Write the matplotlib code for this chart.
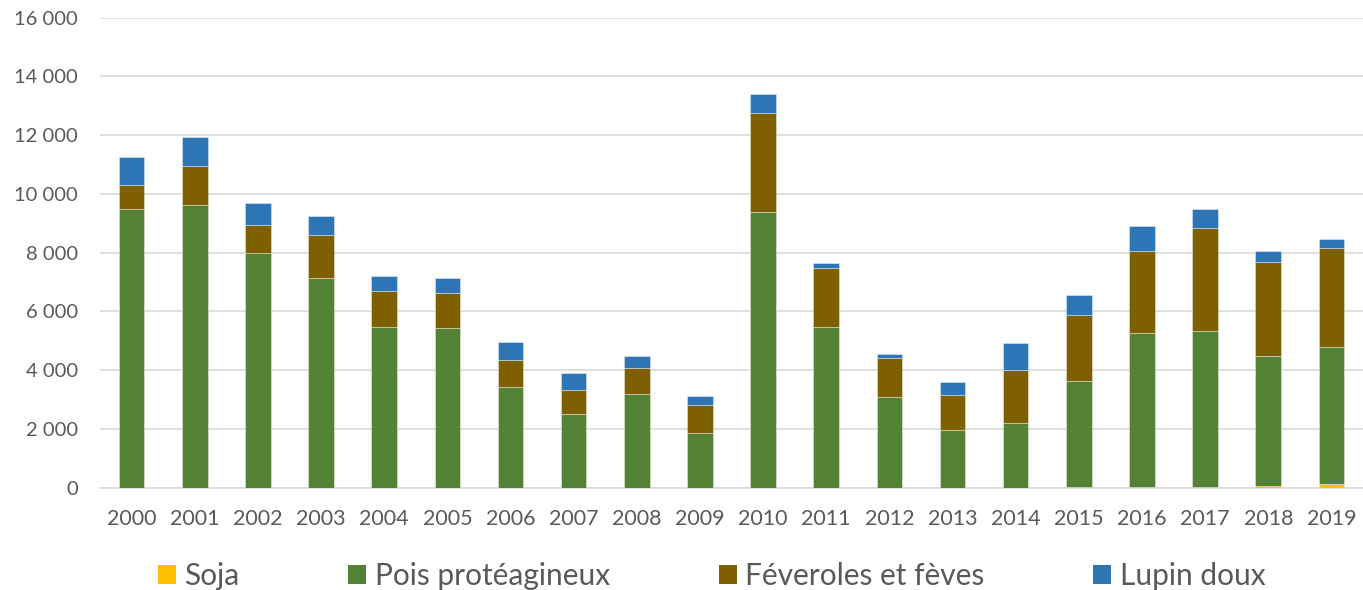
import matplotlib
matplotlib.use("Agg")
import matplotlib.pyplot as plt
from matplotlib.ticker import FuncFormatter
import numpy as np

plt.rcParams['font.family'] = ['Lato', 'DejaVu Sans']

years = [str(y) for y in range(2000, 2020)]
soja = [0, 0, 0, 0, 0, 0, 0, 0, 0, 0, 0, 0, 0, 0, 0, 40, 15, 20, 60, 110]
pois = [9476, 9634, 7990, 7128, 5460, 5426, 3438, 2519, 3179, 1872,
        9375, 5460, 3098, 1954, 2213, 3582, 5241, 5314, 4413, 4669]
feveroles = [837, 1328, 963, 1475, 1226, 1202, 919, 817, 886, 943,
             3381, 2029, 1307, 1212, 1794, 2267, 2812, 3517, 3221, 3370]
lupin = [932, 966, 749, 636, 511, 511, 613, 558, 408, 296,
         657, 171, 136, 422, 919, 681, 841, 647, 374, 328]

series = [("Soja", soja, "#FFC000"),
          ("Pois protéagineux", pois, "#548235"),
          ("Féveroles et fèves", feveroles, "#7F6000"),
          ("Lupin doux", lupin, "#2E75B6")]

fig = plt.figure(figsize=(13.63, 5.90), dpi=100)
ax = fig.add_axes([0.0734, 0.1734, 0.9266, 0.7966])

x = np.arange(len(years))
bottom = np.zeros(len(years))
for name, vals, col in series:
    v = np.array(vals, dtype=float)
    ax.bar(x, v, 0.405, bottom=bottom, color=col, label=name,
           edgecolor=(1, 1, 1, 0.45), linewidth=0.6, zorder=3)
    bottom += v

ax.set_xlim(-0.5, len(years) - 0.5)
ax.set_ylim(0, 16000)
ax.set_yticks(np.arange(0, 16001, 2000))
ax.yaxis.set_major_formatter(FuncFormatter(lambda v, p: f"{int(v):,}".replace(",", " ")))
ax.set_xticks(x)
ax.set_xticklabels(years)
ax.tick_params(axis='y', length=0, pad=16, labelsize=14.5, labelcolor="#595959")
ax.tick_params(axis='x', length=0, pad=15, labelsize=15.5, labelcolor="#595959")
ax.grid(axis='y', color="#D9D9D9", linewidth=1.2, zorder=0)
for s in ['top', 'right', 'left']:
    ax.spines[s].set_visible(False)
ax.spines['bottom'].set_color("#D9D9D9")
ax.spines['bottom'].set_linewidth(1.2)

leg = fig.legend(loc='center', bbox_to_anchor=(0.522, 0.023), ncol=4, frameon=False,
                 fontsize=21.5, handlelength=0.6, handleheight=0.6,
                 handletextpad=0.28, columnspacing=3.65, labelcolor="#595959")
for h in leg.legend_handles:
    h.set_edgecolor('none')

fig.savefig("out.png", dpi=100)
